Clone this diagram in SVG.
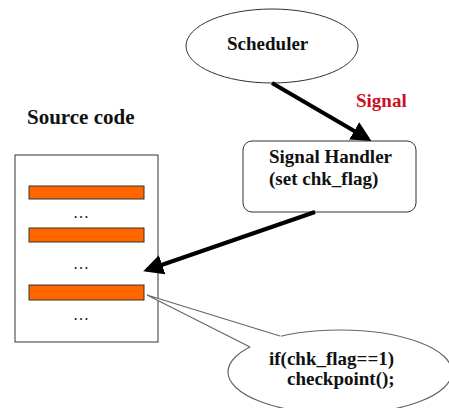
<svg xmlns="http://www.w3.org/2000/svg" width="449" height="408" viewBox="0 0 449 408">
  <style>
    .lbl { font-family: "Liberation Serif", "DejaVu Serif", serif; font-weight: bold; font-size: 19px; fill: #111; }
    .shape { fill: #fff; stroke: #333; stroke-width: 1; }
    .bar { fill: #ff6600; stroke: #333; stroke-width: 1; }
    .dots { font-family: "Liberation Serif", "DejaVu Serif", serif; font-size: 16px; fill: #111; }
    .conn { stroke: #000; stroke-width: 4; fill: none; marker-end: url(#head); }
    .bubble { fill: #fff; stroke: #666; stroke-width: 1.2; }
  </style>
  <defs>
    <marker id="head" markerWidth="5" markerHeight="5" refX="4" refY="2.5" orient="auto" markerUnits="strokeWidth">
      <path d="M0,0 L5,2.5 L0,5 z" fill="#000"/>
    </marker>
  </defs>

  <rect width="449" height="408" fill="#fff"/>

  <g id="scheduler">
    <ellipse class="shape" cx="272" cy="46" rx="86" ry="37"/>
    <text class="lbl" x="227" y="50">Scheduler</text>
  </g>

  <g id="signal-handler">
    <rect class="shape" x="243" y="141" width="173" height="71" rx="9"/>
    <text class="lbl" x="269" y="163">Signal Handler</text>
    <text class="lbl" x="269" y="185">(set chk_flag)</text>
  </g>

  <g id="source-code">
    <text class="lbl" x="27" y="124" style="font-size:21px">Source code</text>
    <rect class="shape" x="15" y="155" width="143" height="187"/>
    <rect class="bar" x="29" y="186" width="115" height="13"/>
    <text class="dots" x="73" y="218">…</text>
    <rect class="bar" x="29" y="228" width="115" height="14"/>
    <text class="dots" x="73" y="269">…</text>
    <rect class="bar" x="29" y="285" width="115" height="15"/>
    <text class="dots" x="73" y="320">…</text>
  </g>

  <g id="callout">
    <!-- speech bubble: ellipse body, tail pointing at the third bar -->
    <ellipse class="bubble" cx="340" cy="372" rx="112" ry="42"/>
    <path d="M280,336 L147,295 L250,347 L262,350 L292,342 z" fill="#fff" stroke="none"/>
    <path d="M280,336 L147,295 L250,347" fill="none" stroke="#666" stroke-width="1.2"/>
    <text class="lbl" x="269" y="365">if(chk_flag==1)</text>
    <text class="lbl" x="287" y="385">checkpoint();</text>
  </g>

  <g id="connectors">
    <line class="conn" x1="272" y1="83" x2="368" y2="139"/>
    <text x="356" y="107" style="font-family:'Liberation Serif','DejaVu Serif',serif;font-weight:bold;font-size:19px;fill:#cc1122">Signal</text>
    <line class="conn" x1="315" y1="212" x2="147" y2="270"/>
  </g>
</svg>
